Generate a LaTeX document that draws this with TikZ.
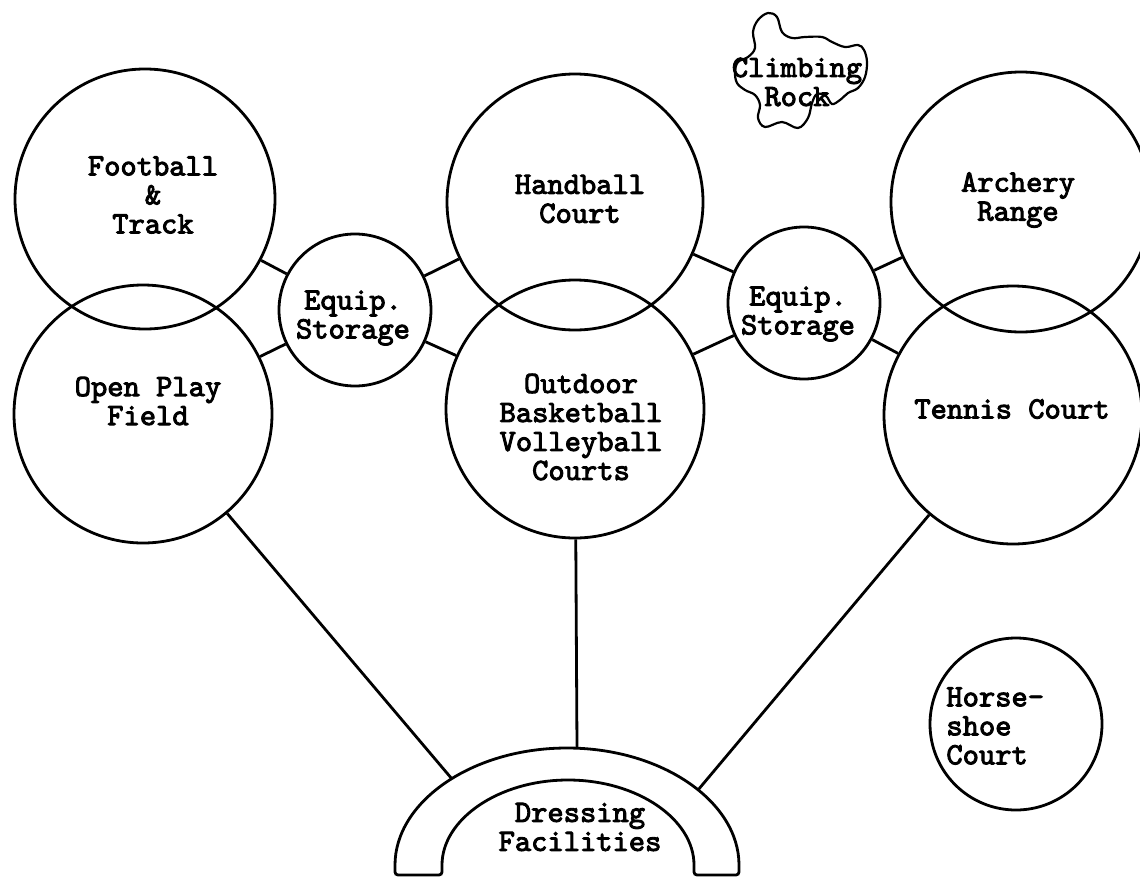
\documentclass[tikz,border=0pt]{standalone}
\usepackage{fontspec}
\newfontfamily\planfont{lmmono10-regular.otf}[FakeBold=3]
\tikzset{
  area/.style={circle, draw, line width=2.8pt, inner sep=0pt},
  label text/.style={inner sep=0pt, align=center,
    font=\planfont\fontsize{31}{29}\selectfont}
}

\begin{document}
\begin{tikzpicture}[x=1pt, y=-1pt, line width=2.8pt]
\useasboundingbox (0,0) rectangle (1140,878);
% Playing areas
    \node[area, minimum size=260] (football) at (145,199) {};
    \node[area, minimum size=258] (openplay) at (143,414) {};
    \node[area, minimum size=256] (handball) at (575,202) {};
    \node[area, minimum size=258] (courts) at (575,409) {};
    \node[area, minimum size=260] (archery) at (1021,202) {};
    \node[area, minimum size=258] (tennis) at (1013,415) {};
    \node[label text] (footballtext) at (153,195) {Football\\\&\\Track};
    \node[label text] (openplaytext) at (148,401) {Open Play\\Field};
    \node[label text] (handballtext) at (580,199) {Handball\\Court};
    \node[label text] (courtstext) at (581,427) {Outdoor\\Basketball\\Volleyball\\Courts};
    \node[label text] (archerytext) at (1018,200) {Archery\\Range};
    \node[label text] (tennistext) at (1012,409) {Tennis Court};
% Equipment storage
    \node[area, minimum size=152] (storeL) at (355,310) {};
    \node[area, minimum size=152] (storeR) at (804,303) {};
    \node[label text] (storeLtext) at (353,318) {Equip.\\Storage};
    \node[label text] (storeRtext) at (798,314) {Equip.\\Storage};
% Links to storage
    \draw (football) -- (storeL);
    \draw (openplay) -- (storeL);
    \draw (storeL) -- (handball);
    \draw (storeL) -- (courts);
    \draw (handball) -- (storeR);
    \draw (courts) -- (storeR);
    \draw (storeR) -- (archery);
    \draw (storeR) -- (tennis);
% Climbing rock
    \draw[line width=2.2pt] plot[smooth cycle, tension=0.6] coordinates {
      (758,20) (768,13) (777,17) (782,32) (792,38) (805,37) (822,37)
      (832,42) (845,47) (858,45) (864,50) (867,62) (865,77) (858,88)
      (848,93) (840,100) (832,104) (826,96) (817,94) (812,103) (808,118)
      (798,128) (782,122) (765,127) (758,118) (760,105) (755,95) (745,90)
      (737,83) (735,72) (738,62) (748,57) (755,48) (753,32)};
    \node[label text] (rock) at (797,82) {Climbing\\Rock};
% Horseshoe court
    \node[area, minimum size=172] (horse) at (1016,724) {};
    \node[label text, align=left, anchor=west] (horsetext) at (945,726) {Horse-\\shoe\\Court};
% Dressing facilities
    \draw[rounded corners=3pt] (395,868) arc[start angle=180, end angle=360, x radius=172, y radius=120]
      -- (739,875) -- (694,875) -- (694,868)
      arc[start angle=360, end angle=180, x radius=126, y radius=88]
      -- (442,875) -- (395,875) -- cycle;
    \node[label text] (dressing) at (580,827) {Dressing\\Facilities};
    \coordinate (archL) at (452,779);
    \coordinate (archM) at (577,748);
    \coordinate (archR) at (698,790);
    \draw (openplay) -- (archL);
    \draw (courts) -- (archM);
    \draw (tennis) -- (archR);
\end{tikzpicture}
\end{document}
